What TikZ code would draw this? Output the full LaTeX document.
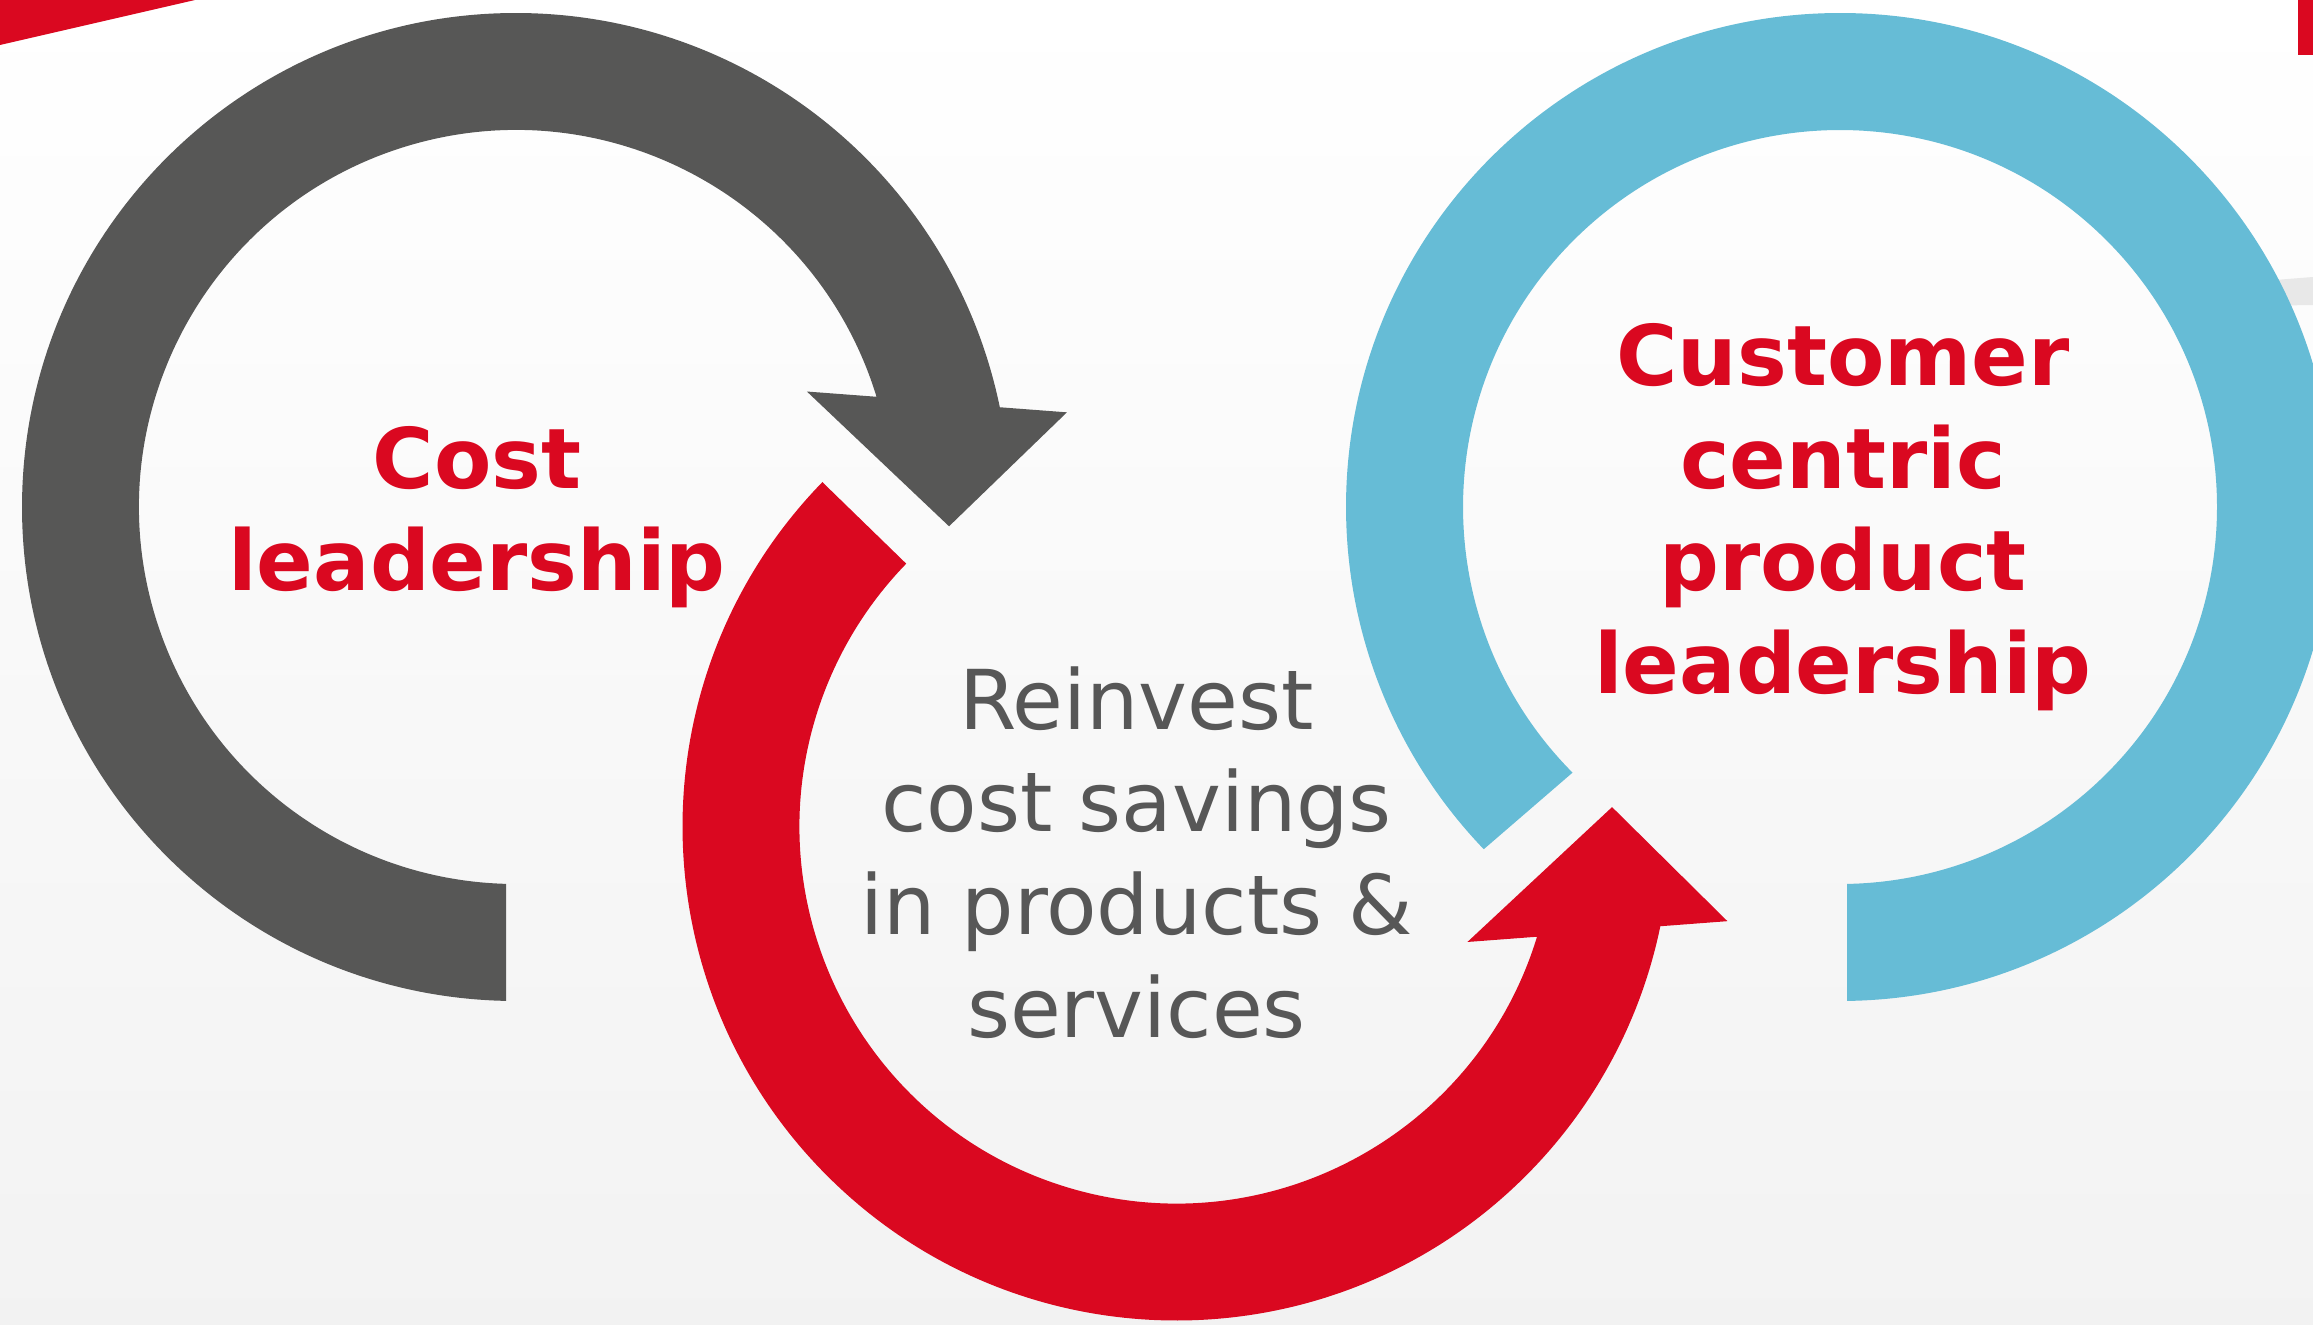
\documentclass[tikz,border=0pt]{standalone}
\usepackage{fontspec}
\setmainfont{DejaVu Sans}

\definecolor{ringgray}{RGB}{87,87,86}
\definecolor{ringred}{RGB}{218,8,32}
\definecolor{ringblue}{RGB}{102,188,214}
\definecolor{textgray}{RGB}{87,87,87}

\begin{document}
\begin{tikzpicture}[
                headline/.style={
                    text=ringred,
                    align=center,
                    inner sep=0pt,
                    font=\bfseries\fontsize{23.8}{29.2}\selectfont
                },
                bodytext/.style={
                    text=textgray,
                    align=center,
                    inner sep=0pt,
                    font=\fontsize{23.5}{29.2}\selectfont
                }
            ]
                \useasboundingbox (0,0) rectangle (23.13,13.24);
                \shade[top color=white, bottom color=black!5] (0,0) rectangle (23.13,13.24);

                % corner decoration
                \fill[ringred] (0,13.24) -- (1.95,13.24) -- (0,12.79) -- cycle;
                \fill[ringred] (22.98,12.69) rectangle (23.13,13.24);
                \fill[black!9] (22.5,10.42) -- (23.13,10.47) -- (23.13,10.19) -- (22.5,10.18) -- cycle;

                \coordinate (gc) at (5.16,8.17);
                \coordinate (rc) at (11.765,4.975);
                \coordinate (bc) at (18.40,8.17);

                % gray ring with its head on the right
                \fill[ringgray, shift={(gc)}] (268.84:4.94) arc[start angle=268.84, end angle=11.65, radius=4.94]
                    -- (9.75:5.59) -- (-2.55:4.335) -- (21.65:3.13) -- (17:3.77)
                    arc[start angle=17, end angle=268.48, radius=3.77] -- cycle;

                % red ring, head pointing up
                \fill[ringred, shift={(rc)}] (135.8:4.94) arc[start angle=135.8, end angle=348.35, radius=4.94]
                    -- (350.25:5.59) -- (2.55:4.36) -- (338.35:3.13) -- (343:3.77)
                    arc[start angle=343, end angle=135.8, radius=3.77] -- cycle;

                % blue ring, no head
                \fill[ringblue, shift={(bc)}] (270.81:4.94) arc[start angle=270.81, end angle=583.85, radius=4.94]
                    -- (584.8:3.77) arc[start angle=584.8, end angle=271.06, radius=3.77] -- cycle;

                \node[headline] (cost) at (4.77,8.07) {Cost\\leadership};
                \node[headline] (customer) at (18.43,8.07) {Customer\\centric\\product\\leadership};
                \node[bodytext] (reinvest) at (11.365,4.715) {Reinvest\\cost savings\\in products \&\\services};
        \end{tikzpicture}
\end{document}
